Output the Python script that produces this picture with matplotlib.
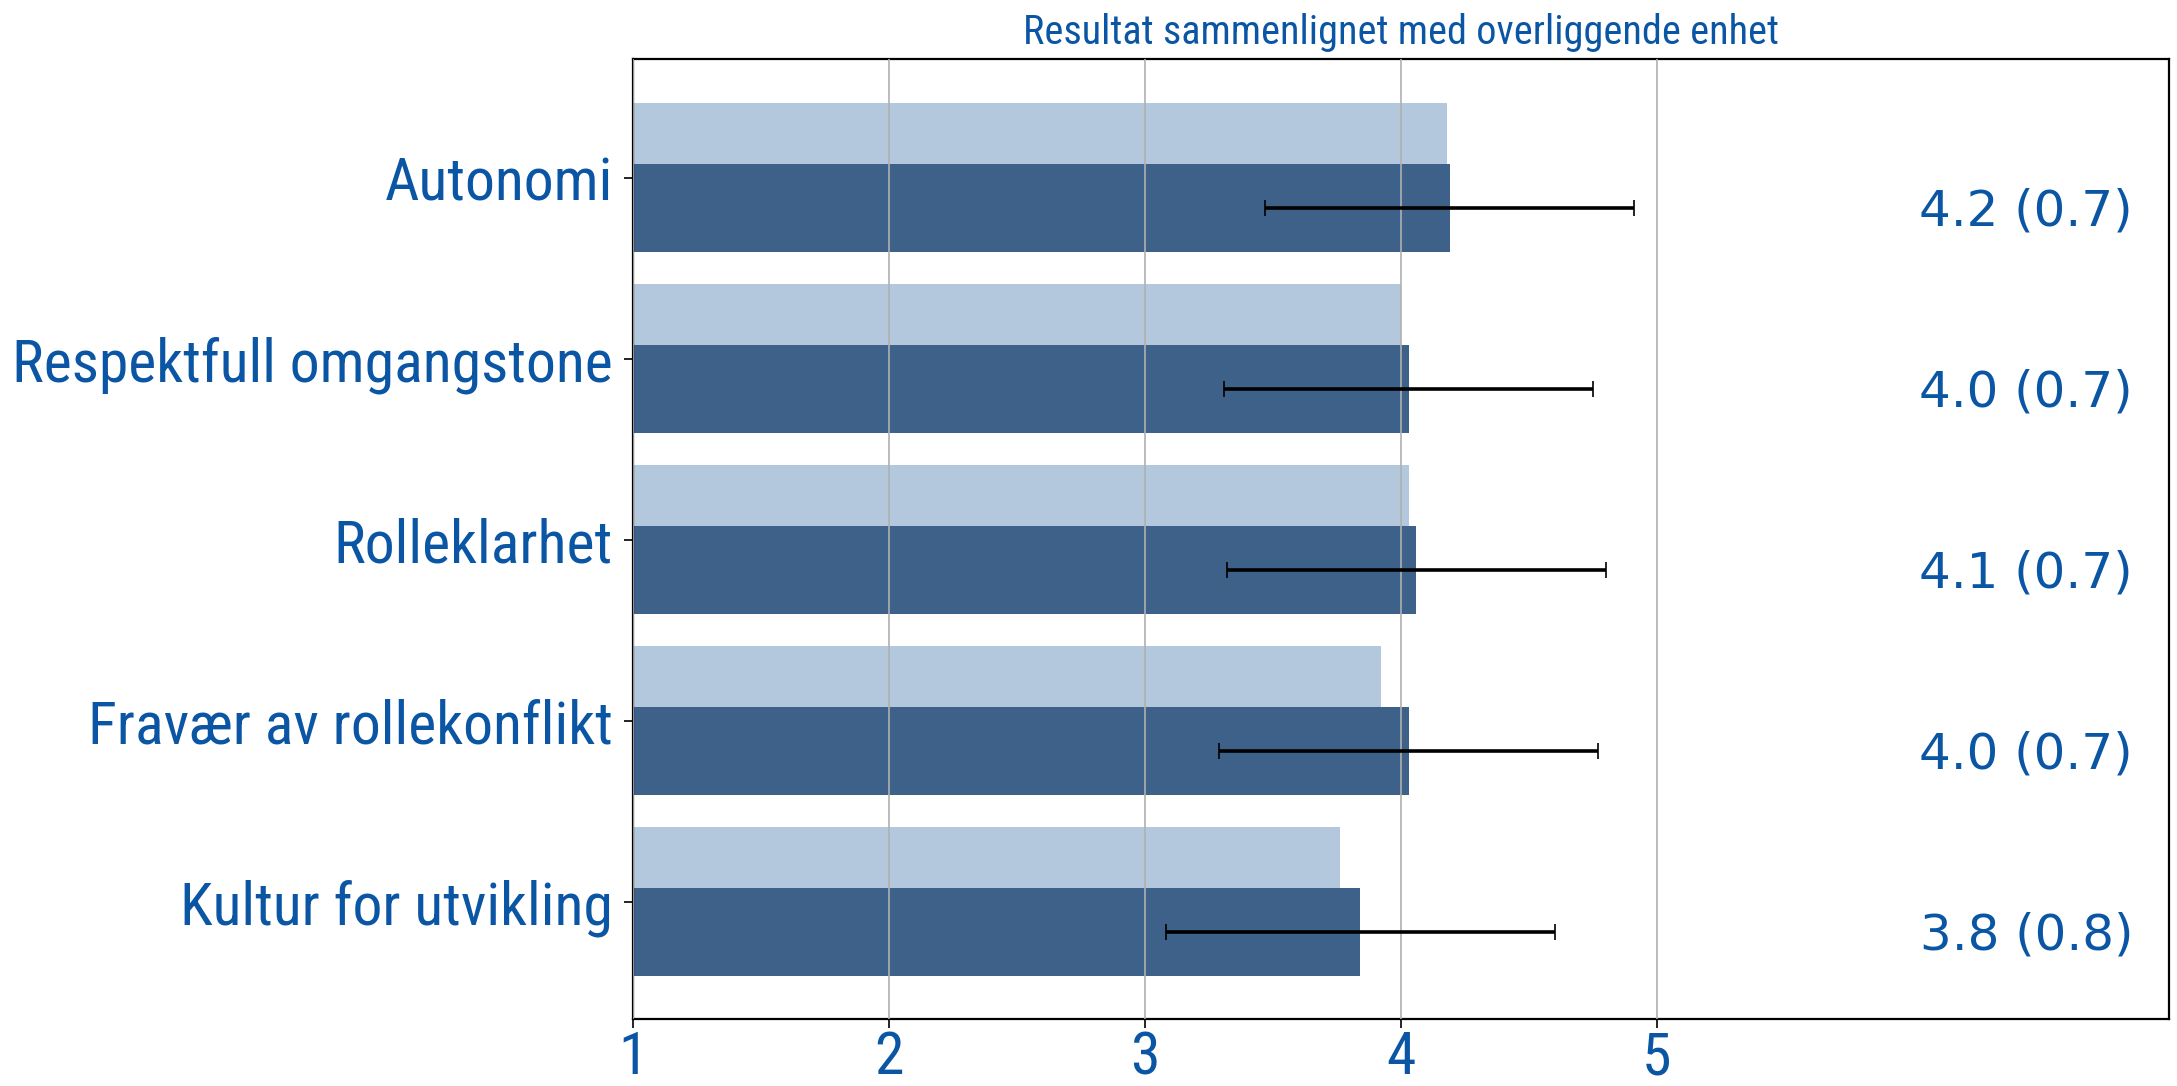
import matplotlib
matplotlib.use("Agg")
import matplotlib.pyplot as plt
import numpy as np

categories = ["Autonomi", "Respektfull omgangstone", "Rolleklarhet",
              "Fravær av rollekonflikt", "Kultur for utvikling"]
unit_mean = [4.19, 4.03, 4.06, 4.03, 3.84]
unit_sd = [0.72, 0.72, 0.74, 0.74, 0.76]
parent_mean = [4.18, 4.00, 4.03, 3.92, 3.76]
xticks = [1, 2, 3, 4, 5]
title = "Resultat sammenlignet med overliggende enhet"

blue_text = "#0b56a4"
# arial narrow look-alike, first one found is used
narrow = ["Liberation Sans Narrow", "Arial Narrow", "Roboto Condensed",
          "Archivo Narrow", "DejaVu Sans"]

fig = plt.figure(figsize=(21.77, 10.86), dpi=100)
ax = fig.add_axes([0.2908, 0.0617, 0.9963 - 0.2908, 0.9457 - 0.0617])

y = np.arange(len(categories))
# light bar = overliggende enhet, dark bar = egen enhet
ax.barh(y - 0.245, parent_mean, height=0.34, color="#b3c8dd", zorder=1)
ax.barh(y + 0.167, unit_mean, height=0.485, color="#3e6189", zorder=1)
ax.errorbar(unit_mean, y + 0.167, xerr=unit_sd, fmt="none", ecolor="black",
            elinewidth=2.6, capsize=5.8, capthick=1.2, zorder=3)

for i, (m, s) in enumerate(zip(unit_mean, unit_sd)):
    ax.text(6.86, i + 0.185, f"{m:.1f} ({s:.1f})", ha="right", va="center",
            fontsize=36, color=blue_text, family="DejaVu Sans")

ax.set_xlim(1, 7)
ax.set_ylim(4.646, -0.657)
ax.set_xticks(xticks)
ax.set_xticklabels([str(t) for t in xticks], fontsize=43)
ax.set_yticks(y)
ax.set_yticklabels(categories, fontsize=43)
for lab in ax.get_xticklabels() + ax.get_yticklabels():
    lab.set_family(narrow)
    lab.set_color(blue_text)
ax.tick_params(axis="both", length=6.5, width=1.2, color="black")
ax.tick_params(axis="y", pad=8)
ax.tick_params(axis="x", pad=1)

ax.grid(axis="x", color="#b0b0b0", linewidth=1.2, zorder=2)
ax.set_axisbelow(False)
for sp in ax.spines.values():
    sp.set_linewidth(1.6)
    sp.set_color("black")

ax.set_title(title, fontsize=29, color=blue_text, family=narrow, pad=11)

fig.savefig("out.png", dpi=100)
